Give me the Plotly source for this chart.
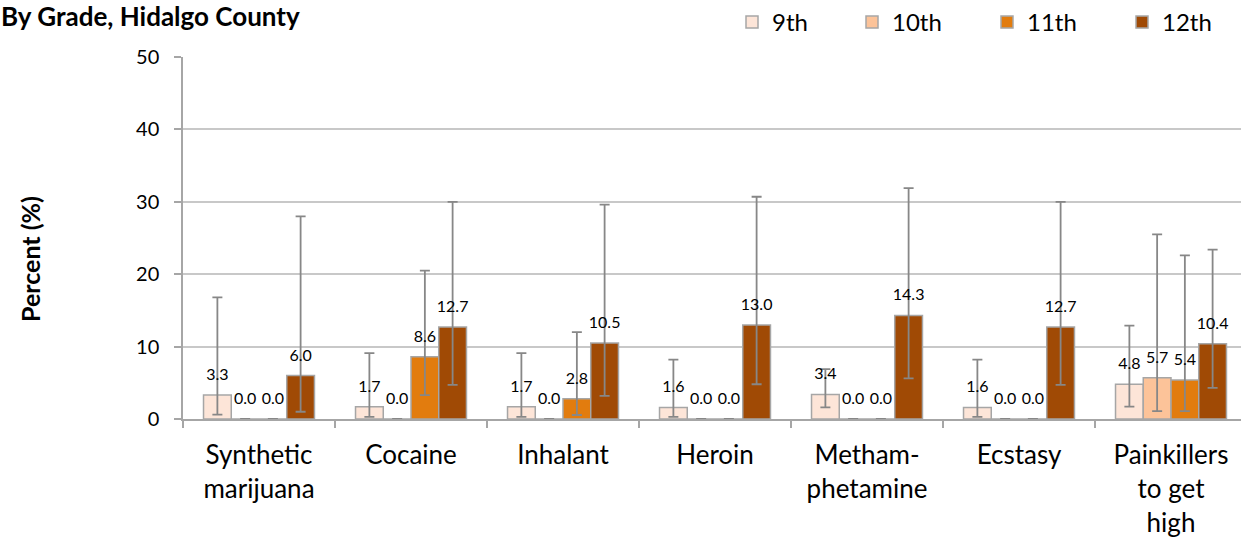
import plotly.graph_objects as go

categories = ["Synthetic<br>marijuana", "Cocaine", "Inhalant", "Heroin",
              "Metham-<br>phetamine", "Ecstasy", "Painkillers<br>to get<br>high"]
grades = ["9th", "10th", "11th", "12th"]

val_9 = [3.3, 1.7, 1.7, 1.6, 3.4, 1.6, 4.8]
val_10 = [0.0, 0.0, 0.0, 0.0, 0.0, 0.0, 5.7]
val_11 = [0.0, 8.6, 2.8, 0.0, 0.0, 0.0, 5.4]
val_12 = [6.0, 12.7, 10.5, 13.0, 14.3, 12.7, 10.4]

lo_9 = [0.6, 0.3, 0.3, 0.3, 1.6, 0.3, 1.7]
hi_9 = [16.8, 9.1, 9.1, 8.2, 6.9, 8.2, 12.9]
lo_10 = [None, None, None, None, None, None, 1.1]
hi_10 = [None, None, None, None, None, None, 25.5]
lo_11 = [None, 3.3, 0.55, None, None, None, 1.1]
hi_11 = [None, 20.5, 12.0, None, None, None, 22.6]
lo_12 = [1.0, 4.7, 3.2, 4.8, 5.6, 4.7, 4.3]
hi_12 = [28.0, 30.0, 29.6, 30.7, 31.9, 30.0, 23.4]

y_ticks = [0, 10, 20, 30, 40, 50]

colors = ["#FDE5D8", "#FCC399", "#E27C0E", "#A04A05"]
FONT = "Lato"

series = [(val_9, lo_9, hi_9), (val_10, lo_10, hi_10),
          (val_11, lo_11, hi_11), (val_12, lo_12, hi_12)]

W, H = 1241, 537
plot_l, plot_r, plot_t, plot_b = 183, 1241, 57, 419
cat_px = 152.0  # width of one category slot; the chart is cropped on the right
x_max = -0.5 + (plot_r - plot_l) / cat_px
legend_ids = ["legend", "legend2", "legend3", "legend4"]
legend_left = [732, 852, 987, 1122]

fig = go.Figure()
for g, (vals, lo, hi), c, lid in zip(grades, series, colors, legend_ids):
    up = [None if h is None else round(h - v, 3) for v, h in zip(vals, hi)]
    dn = [None if l is None else round(v - l, 3) for v, l in zip(vals, lo)]
    fig.add_trace(go.Bar(
        name=g, x=categories, y=vals, offsetgroup=g, legend=lid,
        marker=dict(color=c, line=dict(color="#A6A6A6", width=1.5)),
        error_y=dict(type="data", symmetric=False, array=up, arrayminus=dn,
                     color="#878787", thickness=1.8, width=5),
        hoverinfo="skip",
    ))
for g, (vals, lo, hi) in zip(grades, series):
    fig.add_trace(go.Scatter(
        x=categories, y=vals, offsetgroup=g, mode="markers+text",
        text=[f"{v:.1f}" for v in vals], textposition="top center",
        textfont=dict(family=FONT, size=16, color="#000000"),
        marker=dict(size=16, opacity=0), showlegend=False, hoverinfo="skip",
    ))

legend_common = dict(orientation="h", xref="container", xanchor="left",
                     yref="container", y=1, yanchor="top",
                     font=dict(family=FONT, size=24, color="#000000"),
                     bgcolor="rgba(0,0,0,0)")
legend_layout = {lid: dict(x=lx / W, **legend_common) for lid, lx in zip(legend_ids, legend_left)}

fig.update_layout(
    width=W, height=H,
    margin=dict(l=plot_l, r=W - plot_r, t=plot_t, b=H - plot_b, autoexpand=False),
    barmode="group", scattermode="group", bargap=0.27, bargroupgap=0,
    plot_bgcolor="white", paper_bgcolor="white",
    font=dict(family=FONT, color="#000000"),
    showlegend=True,
    annotations=[
        dict(text="<b>By Grade, Hidalgo County</b>", xref="paper", yref="paper",
             x=(-1 - plot_l) / (plot_r - plot_l), y=1 + (plot_t + 2) / (plot_b - plot_t),
             xanchor="left", yanchor="top", showarrow=False,
             font=dict(family=FONT, size=26, color="#000000")),
        dict(text="<b>Percent (%)</b>", textangle=-90, xref="paper", yref="paper",
             x=(30 - plot_l) / (plot_r - plot_l), y=(plot_b - 259) / (plot_b - plot_t),
             xanchor="center", yanchor="middle", showarrow=False,
             font=dict(family=FONT, size=25, color="#000000")),
    ],
    **legend_layout,
)
fig.update_xaxes(
    range=[-0.5, x_max], showline=True, linecolor="#A6A6A6", linewidth=1.5,
    ticks="outside", tickson="boundaries", ticklen=7, tickcolor="#A6A6A6", tickwidth=1.5,
    ticklabelstandoff=12,
    tickfont=dict(family=FONT, size=26, color="#000000"), showgrid=False, automargin=False,
)
fig.update_yaxes(
    range=[0, 50], tickvals=y_ticks, showline=True, linecolor="#A6A6A6", linewidth=1.5,
    ticks="outside", ticklen=7, tickcolor="#A6A6A6", tickwidth=1.5, ticklabelstandoff=11,
    gridcolor="#C8C8C8", gridwidth=1.5, zeroline=False, automargin=False,
    tickfont=dict(family=FONT, size=20, color="#000000"),
)

fig.write_html("out.html", config={"displayModeBar": False},
               post_script="document.body.style.margin='0px';")
